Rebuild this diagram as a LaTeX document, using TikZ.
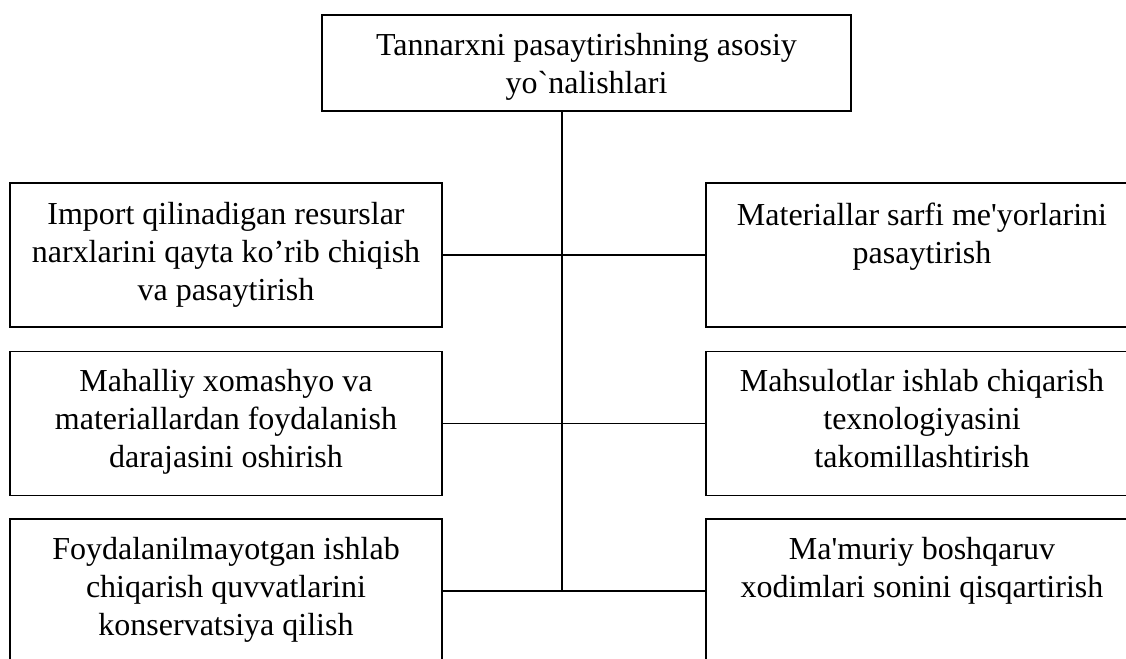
\documentclass[tikz,border=0pt]{standalone}
\usepackage{fontspec}
\setmainfont{Liberation Serif}
\usetikzlibrary{positioning}

\tikzset{
  box/.style={draw, line width=1.4pt, minimum width=432pt, minimum height=144pt, inner sep=0pt},
  txt/.style={align=center, inner sep=0pt, font=\fontsize{32}{38}\selectfont},
  link/.style={line width=1.4pt}
}

\begin{document}
\begin{tikzpicture}[x=1pt,y=-1pt]
  \useasboundingbox (0,0) rectangle (1126,658);

  % Bloc principal
  \node[box, minimum width=529pt, minimum height=96pt] (top) at (586.5,63) {};
  \node[txt, below=19pt of top.north] (toptxt) {Tannarxni pasaytirishning asosiy\\yo\textasciigrave nalishlari};

  % Blocs a gauche
  \node[box] (imp) at (226,255) {};
  \node[box] (mah) at (226,423.5) {};
  \node[box] (foy) at (226,591) {};
  \node[txt, below=20pt of imp.north] (imptxt) {Import qilinadigan resurslar\\narxlarini qayta ko’rib chiqish\\va pasaytirish};
  \node[txt, below=18pt of mah.north] (mahtxt) {Mahalliy xomashyo va\\materiallardan foydalanish\\darajasini oshirish};
  \node[txt, below=19pt of foy.north] (foytxt) {Foydalanilmayotgan ishlab\\chiqarish quvvatlarini\\konservatsiya qilish};

  % Blocs a droite
  \node[box] (mat) at (922,255) {};
  \node[box] (tex) at (922,423.5) {};
  \node[box] (mam) at (922,591) {};
  \node[txt, below=20pt of mat.north] (mattxt) {Materiallar sarfi me\textquotesingle yorlarini\\pasaytirish};
  \node[txt, below=18pt of tex.north] (textxt) {Mahsulotlar ishlab chiqarish\\texnologiyasini\\takomillashtirish};
  \node[txt, below=19pt of mam.north] (mamtxt) {Ma\textquotesingle muriy boshqaruv\\xodimlari sonini qisqartirish};

  % Liaisons
  \coordinate (trunk) at (562,591);
  \draw[link] (top.south -| trunk) -- (trunk);
  \draw[link] (imp.east) -- (mat.west);
  \draw[link] (mah.east) -- (tex.west);
  \draw[link] (foy.east) -- (mam.west);
\end{tikzpicture}
\end{document}
